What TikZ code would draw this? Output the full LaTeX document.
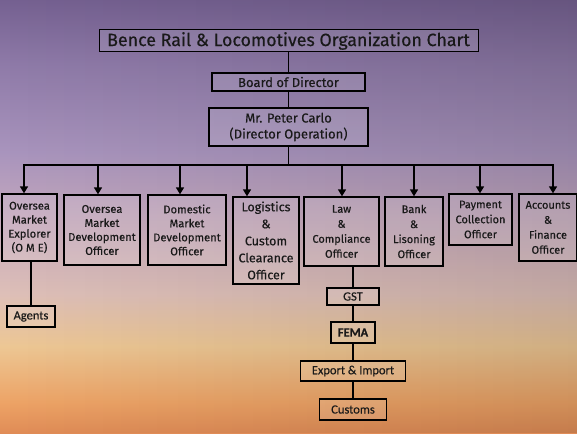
\documentclass[tikz,border=0pt]{standalone}
\usepackage{fontspec}
\setmainfont{Fira Sans}[FakeBold=0.35]
\newfontfamily\calfont{Carlito}[FakeBold=0.3]
\usepackage{tikz}
\usetikzlibrary{arrows.meta, fadings}

\pgfdeclareverticalshading{skyfade}{100bp}{rgb(0bp)=(0.88,0.55,0.34); rgb(25bp)=(0.88,0.55,0.34); rgb(28.5bp)=(0.93,0.64,0.40); rgb(35bp)=(0.93,0.78,0.58); rgb(41bp)=(0.87,0.75,0.72); rgb(50bp)=(0.77,0.66,0.74); rgb(57.5bp)=(0.66,0.58,0.74); rgb(67.5bp)=(0.56,0.48,0.66); rgb(75bp)=(0.46,0.38,0.57); rgb(100bp)=(0.46,0.38,0.57)}

\begin{document}
\begin{tikzpicture}[x=1pt, y=-1pt,
    box/.style={draw=black, line width=1.3pt, fill=white, fill opacity=0.12, text opacity=1, text=black!90, align=center, inner sep=0pt, font=\fontsize{11.2}{14}\selectfont},
    subbox/.style={box, font=\calfont\fontsize{12.5}{15}\selectfont},
    link/.style={line width=1.4pt, black}]
    \shade [shading=skyfade] (0, 0) rectangle (577, 433);
    \fill [black, path fading=west, opacity=0.12] (0, 0) rectangle (577, 433);
    \useasboundingbox (0, 0) rectangle (577, 433);

    \node [box, font=\fontsize{17.8}{20}\selectfont, line width=1pt, minimum width=379pt, minimum height=22pt] (title) at (288.5, 41) {Bence Rail \& Locomotives Organization Chart};
    \node [box, font=\fontsize{13}{14}\selectfont, line width=1.6pt, minimum width=153pt, minimum height=18pt] (board) at (288.5, 82) {Board of Director};
    \node [box, font=\fontsize{13}{16}\selectfont, minimum width=159pt, minimum height=38pt] (mr) at (288.5, 127) {Mr. Peter Carlo\\(Director Operation)};

    \node [box, minimum width=55pt, minimum height=67pt] (ome) at (29.5, 227.5) {Oversea\\Market\\Explorer\\(O M E)};
    \node [box, minimum width=76pt, minimum height=70pt] (omd) at (102, 230) {Oversea\\Market\\Development\\Officer};
    \node [box, minimum width=78pt, minimum height=70pt] (dmd) at (187, 230) {Domestic\\Market\\Development\\Officer};
    \node [box, font=\fontsize{12.5}{17}\selectfont, minimum width=66pt, minimum height=87pt] (logi) at (266, 240.5) {Logistics\\\&\\Custom\\Clearance\\Officer};
    \node [box, font=\fontsize{11}{15}\selectfont, minimum width=75pt, minimum height=69pt] (law) at (341.5, 231.5) {Law\\\&\\Compliance\\Officer};
    \node [box, font=\fontsize{11}{15}\selectfont, minimum width=58pt, minimum height=69pt] (bank) at (414, 231.5) {Bank\\\&\\Lisoning\\Officer};
    \node [box, font=\fontsize{11}{15}\selectfont, minimum width=63pt, minimum height=51pt] (pay) at (480.5, 219.5) {Payment\\Collection\\Officer};
    \node [box, font=\fontsize{11}{15}\selectfont, minimum width=58pt, minimum height=67pt] (acc) at (548, 227.5) {Accounts\\\&\\Finance\\Officer};

    \node [subbox, minimum width=48pt, minimum height=21pt] (agents) at (31, 316.5) {Agents};
    \node [subbox, minimum width=52pt, minimum height=17pt] (gst) at (353, 296.5) {GST};
    \node [subbox, minimum width=44pt, minimum height=21pt] (fema) at (353, 332.5) {\bfseries FEMA};
    \node [subbox, minimum width=105pt, minimum height=20pt] (exim) at (353, 371) {Export \& Import};
    \node [subbox, minimum width=67pt, minimum height=21pt] (cust) at (353, 409.5) {Customs};

    \draw [link] (title) -- (board);
    \draw [link] (board) -- (mr);
    \coordinate (hub) at (288.5, 165);
    \draw [link] (mr.south) -- (hub);
    \tikzset{arrows={-Triangle[width=8pt, length=7pt]}}
    \foreach \n/\x in {ome/24, omd/98, dmd/180, logi/247, law/342, bank/414, pay/480, acc/553} {
        \coordinate (b\n) at (\x, 165);
        \draw [link] (b\n) -- (b\n |- \n.north);
    }
    \tikzset{arrows=-}
    \draw [link, line cap=rect] (bome) -- (bacc);
    \draw [link] (agents.north) -- (agents.north |- ome.south);
    \draw [link] (gst.north) -- (gst.north |- law.south);
    \draw [link] (gst) -- (fema);
    \draw [link] (fema) -- (exim);
    \draw [link] (exim) -- (cust);
\end{tikzpicture}
\end{document}
